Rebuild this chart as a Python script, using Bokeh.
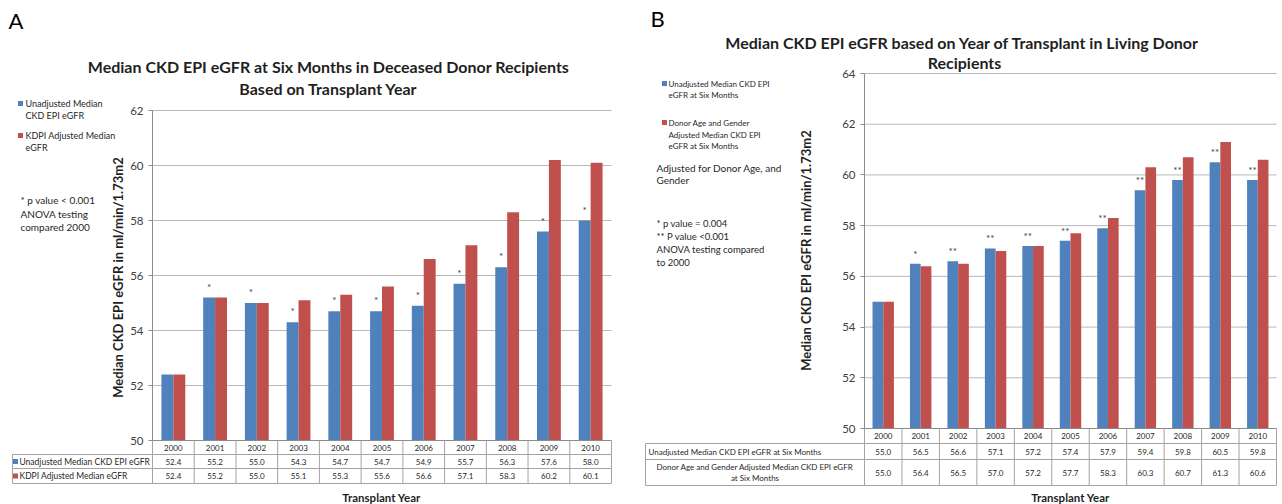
import math
from bokeh.plotting import figure
from bokeh.models import Range1d, FixedTicker, ColumnDataSource, LinearAxis
from bokeh.layouts import row
from bokeh.transform import dodge
from bokeh.core.properties import value
from bokeh.embed import file_html
from bokeh.resources import INLINE

# ---------------- data ----------------
years = ["2000", "2001", "2002", "2003", "2004", "2005", "2006", "2007", "2008", "2009", "2010"]

a_unadj = [52.4, 55.2, 55.0, 54.3, 54.7, 54.7, 54.9, 55.7, 56.3, 57.6, 58.0]
a_kdpi = [52.4, 55.2, 55.0, 55.1, 55.3, 55.6, 56.6, 57.1, 58.3, 60.2, 60.1]
a_sig = ["", "*", "*", "*", "*", "*", "*", "*", "*", "*", "*"]
a_yticks = [50, 52, 54, 56, 58, 60, 62]

b_unadj = [55.0, 56.5, 56.6, 57.1, 57.2, 57.4, 57.9, 59.4, 59.8, 60.5, 59.8]
b_adj = [55.0, 56.4, 56.5, 57.0, 57.2, 57.7, 58.3, 60.3, 60.7, 61.3, 60.6]
b_sig = ["", "*", "**", "**", "**", "**", "**", "**", "**", "**", "**"]
b_yticks = [50, 52, 54, 56, 58, 60, 62, 64]

a_row_names = ["Unadjusted Median CKD EPI eGFR", "KDPI Adjusted Median eGFR"]
b_row1_name = "Unadjusted Median CKD EPI eGFR at Six Months"
b_row2_lines = ["Donor Age and Gender Adjusted Median CKD EPI eGFR", "at Six Months"]
y_title = "Median CKD EPI eGFR in ml/min/1.73m2"

# ---------------- style ----------------
FONT = "Lato"
BLUE = "#4F81BD"
RED = "#C0504D"
TXT = "#1f1f1f"
GRID = "#b8b8b8"
AXIS = "#8c8c8c"
TBL = "#a3a3a3"
BW = 2.0 / 7.0  # bar width (Excel gap width 150%)
H = 504


def make_panel(x0, width, chart_left, chart_right, yticks, py_hi, py_lo):
    """Figure whose frame is the whole panel; fx/fy turn page pixels into data units."""
    n = len(years)
    col = (chart_right - chart_left) / n
    y_hi, y_lo = yticks[-1], yticks[0]
    sy = (py_lo - py_hi) / (y_hi - y_lo)
    xs = -0.5 - (chart_left - x0) / col
    xe = xs + width / col
    ye = y_hi + py_hi / sy
    ys = y_hi - (H - py_hi) / sy
    p = figure(width=width, height=H, x_range=Range1d(xs, xe), y_range=Range1d(ys, ye),
               x_axis_location=None, y_axis_location=None, toolbar_location=None,
               output_backend="svg", min_border_left=0, min_border_right=0,
               min_border_top=0, min_border_bottom=0)
    p.outline_line_color = None
    p.grid.visible = False

    def fx(px):
        return xs + (px - x0) / col

    def fy(py):
        return y_hi - (py - py_hi) / sy

    return p, fx, fy, col


def txt(p, fx, fy, px, py, s, size, color=TXT, align="left", bold=False, angle=0.0,
        baseline="middle"):
    p.text(x=[fx(px)], y=[fy(py)], text=[s], text_align=align, text_baseline=baseline,
           angle=angle, text_font=value(FONT), text_font_size=f"{size}px",
           text_font_style="bold" if bold else "normal", text_color=color)


def chart(p, unadj, adj, sig, yticks, star_off):
    n = len(years)
    # horizontal gridlines at the tick values
    gy = yticks[1:]
    p.segment(x0=[-0.5] * len(gy), x1=[n - 0.5] * len(gy), y0=gy, y1=gy,
              line_color=GRID, line_width=1)
    ax = LinearAxis(fixed_location=-0.5, bounds=(yticks[0], yticks[-1]),
                    ticker=FixedTicker(ticks=yticks))
    ax.axis_line_color = AXIS
    ax.major_tick_line_color = AXIS
    ax.major_tick_out = 4
    ax.major_tick_in = 0
    ax.minor_tick_line_color = None
    ax.major_label_text_font = FONT
    ax.major_label_text_font_size = "11.5px"
    ax.major_label_text_color = "#404040"
    ax.major_label_standoff = 5
    p.add_layout(ax, "left")

    src = ColumnDataSource(dict(idx=list(range(n)), unadj=unadj, adj=adj, sig=sig))
    p.vbar(x=dodge("idx", -BW / 2), top="unadj", bottom=yticks[0], width=BW,
           source=src, fill_color=BLUE, line_color=None)
    p.vbar(x=dodge("idx", BW / 2), top="adj", bottom=yticks[0], width=BW,
           source=src, fill_color=RED, line_color=None)
    p.text(x=dodge("idx", -BW / 2), y="unadj", text="sig", source=src,
           text_align="center", text_baseline="bottom", y_offset=star_off,
           text_font=value(FONT), text_font_size="10px", text_color="#404040")


def table(p, fx, fy, left_px, top_px, row_lines_px):
    n = len(years)
    l1, l2, bot = [fy(v) for v in row_lines_px]
    top = fy(top_px)
    xl = fx(left_px)
    p.segment(x0=[-0.5], y0=[top], x1=[n - 0.5], y1=[top], line_color=AXIS, line_width=1)
    p.segment(x0=[xl] * 3, y0=[l1, l2, bot], x1=[n - 0.5] * 3, y1=[l1, l2, bot],
              line_color=TBL, line_width=1)
    bx = [i - 0.5 for i in range(n + 1)]
    p.segment(x0=bx, y0=[top] * len(bx), x1=bx, y1=[bot] * len(bx), line_color=TBL,
              line_width=1)
    p.segment(x0=[xl], y0=[l1], x1=[xl], y1=[bot], line_color=TBL, line_width=1)


def cells(p, fy, ys_px, unadj, adj, size):
    n = len(years)
    src = ColumnDataSource(dict(idx=list(range(n)), years=years,
                                u=[f"{v:.1f}" for v in unadj],
                                a=[f"{v:.1f}" for v in adj]))
    for colname, py in zip(("years", "u", "a"), ys_px):
        p.text(x="idx", y=fy(py), text=colname, source=src, text_align="center",
               text_baseline="middle", text_font=value(FONT), text_font_size=f"{size}px",
               text_color=TXT)


# ---------------- panel A ----------------
pA, fxA, fyA, colA = make_panel(0, 640, 152, 611, a_yticks, 110, 440)
chart(pA, a_unadj, a_kdpi, a_sig, a_yticks, -5)
table(pA, fxA, fyA, 12, 440, (454, 468, 483))
cells(pA, fyA, (447, 461, 475.5), a_unadj, a_kdpi, 8)
pA.scatter(x=[fxA(15)] * 2, y=[fyA(461), fyA(475.5)], marker="square", size=5,
           color=[BLUE, RED], line_color=None)
pA.text(x=[fxA(19)] * 2, y=[fyA(461), fyA(475.5)], text=a_row_names, text_align="left",
        text_baseline="middle", text_font=value(FONT), text_font_size="8.5px", text_color=TXT)
txt(pA, fxA, fyA, 381, 497, "Transplant Year", 11.5, align="center", bold=True)
txt(pA, fxA, fyA, 117, 277, y_title, 13, align="center", bold=True, angle=math.pi / 2)

txt(pA, fxA, fyA, 8, 20, "A", 22, color="black")
txt(pA, fxA, fyA, 328, 66, "Median CKD EPI eGFR at Six Months in Deceased Donor Recipients",
    16, align="center", bold=True)
txt(pA, fxA, fyA, 328, 88, "Based on Transplant Year", 16, align="center", bold=True)
pA.scatter(x=[fxA(20)] * 2, y=[fyA(103), fyA(135)], marker="square", size=5,
           color=[BLUE, RED], line_color=None)
txt(pA, fxA, fyA, 25, 103, "Unadjusted Median", 9)
txt(pA, fxA, fyA, 25, 115, "CKD EPI eGFR", 9)
txt(pA, fxA, fyA, 25, 135, "KDPI Adjusted Median", 9)
txt(pA, fxA, fyA, 25, 147, "eGFR", 9)
txt(pA, fxA, fyA, 20, 199, "* p value < 0.001", 10)
txt(pA, fxA, fyA, 20, 213, "ANOVA testing", 10)
txt(pA, fxA, fyA, 20, 226, "compared 2000", 10)

# ---------------- panel B ----------------
pB, fxB, fyB, colB = make_panel(640, 642, 864, 1276, b_yticks, 73, 428)
chart(pB, b_unadj, b_adj, b_sig, b_yticks, -4)
table(pB, fxB, fyB, 645, 428, (443, 459, 485))
cells(pB, fyB, (435.5, 451, 472), b_unadj, b_adj, 8)
txt(pB, fxB, fyB, 648, 451, b_row1_name, 8)
txt(pB, fxB, fyB, 754.5, 466.5, b_row2_lines[0], 8, align="center")
txt(pB, fxB, fyB, 754.5, 477.5, b_row2_lines[1], 8, align="center")
txt(pB, fxB, fyB, 1070, 497, "Transplant Year", 11.5, align="center", bold=True)
txt(pB, fxB, fyB, 805, 250, y_title, 13, align="center", bold=True, angle=math.pi / 2)

txt(pB, fxB, fyB, 650, 18, "B", 22, color="black")
txt(pB, fxB, fyB, 964, 42, "Median  CKD EPI eGFR based on Year of Transplant in Living Donor",
    16, align="center", bold=True)
txt(pB, fxB, fyB, 964, 62, "Recipients", 16, align="center", bold=True)
pB.scatter(x=[fxB(664)] * 2, y=[fyB(83), fyB(122)], marker="square", size=5,
           color=[BLUE, RED], line_color=None)
txt(pB, fxB, fyB, 668, 83, "Unadjusted Median CKD EPI", 8)
txt(pB, fxB, fyB, 668, 94, "eGFR at Six Months", 8)
txt(pB, fxB, fyB, 668, 122, "Donor Age and Gender", 8)
txt(pB, fxB, fyB, 668, 134, "Adjusted Median CKD EPI", 8)
txt(pB, fxB, fyB, 668, 145, "eGFR at Six Months", 8)
txt(pB, fxB, fyB, 656, 167, "Adjusted for Donor Age, and", 10)
txt(pB, fxB, fyB, 656, 179, "Gender", 10)
txt(pB, fxB, fyB, 656, 223, "* p value = 0.004", 9.5)
txt(pB, fxB, fyB, 656, 236, "** P value <0.001", 9.5)
txt(pB, fxB, fyB, 656, 249, "ANOVA testing compared", 9.5)
txt(pB, fxB, fyB, 656, 262, "to 2000", 9.5)

layout = row(pA, pB)
open("out.html", "w").write(file_html(layout, INLINE))
